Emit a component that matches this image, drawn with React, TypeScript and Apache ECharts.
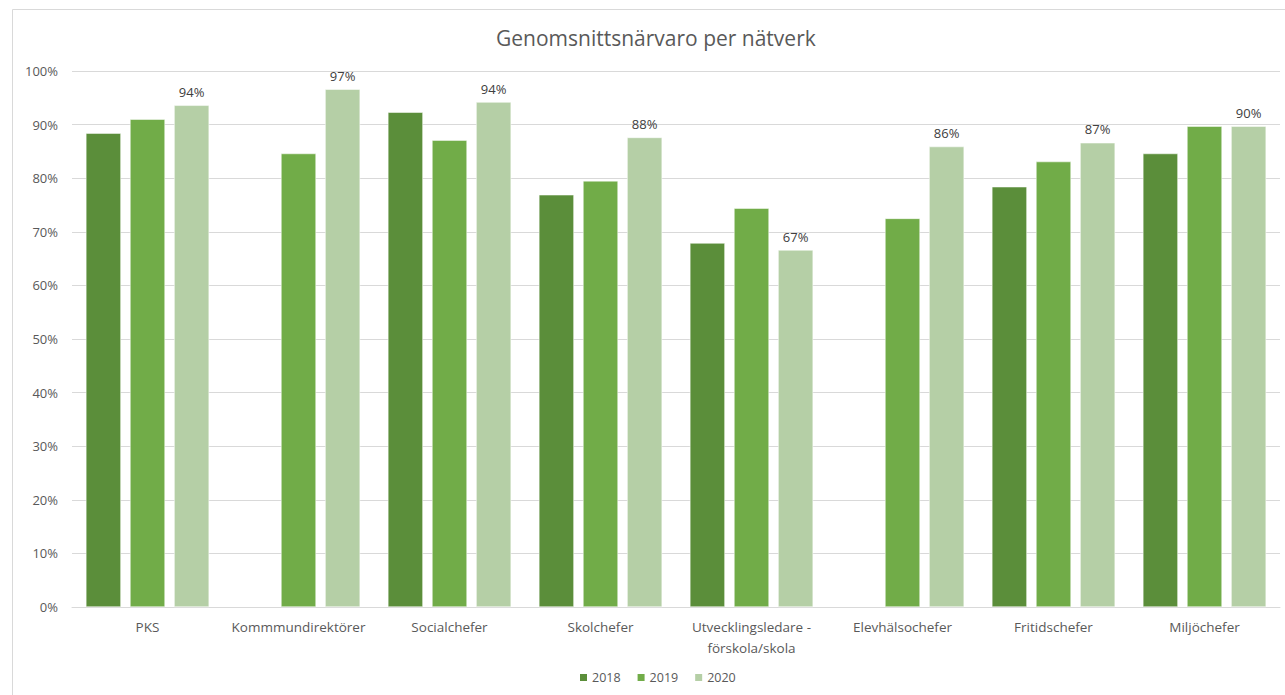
import React, { useEffect, useRef } from "react";
import * as echarts from "echarts";

const categories = [
  "PKS",
  "Kommmundirektörer",
  "Socialchefer",
  "Skolchefer",
  "Utvecklingsledare -\nförskola/skola",
  "Elevhälsochefer",
  "Fritidschefer",
  "Miljöchefer",
];
const seriesNames = ["2018", "2019", "2020"];
const values2018: (number | null)[] = [88.4, null, 92.3, 76.9, 67.9, null, 78.4, 84.6];
const values2019: (number | null)[] = [91.0, 84.6, 87.1, 79.5, 74.4, 72.5, 83.1, 89.7];
const values2020: (number | null)[] = [93.6, 96.6, 94.2, 87.6, 66.6, 85.9, 86.6, 89.7];
const colors = ["#5B8E3A", "#71AC48", "#B5CFA6"];
const FONT = "'Open Sans', Lato, sans-serif";

export default function App() {
  const ref = useRef<HTMLDivElement>(null);
  useEffect(() => {
    if (!ref.current) return;
    const chart = echarts.init(ref.current, undefined, { renderer: "svg" });
    const allData = [values2018, values2019, values2020];
    chart.setOption({
      animation: false,
      textStyle: { fontFamily: FONT },
      graphic: [
        {
          type: "rect",
          shape: { x: 12.5, y: 9.5, width: 1300, height: 700 },
          style: { fill: "none", stroke: "#D9D9D9", lineWidth: 1 },
          silent: true,
        },
      ],
      title: {
        text: "Genomsnittsnärvaro per nätverk",
        left: 491,
        top: 22,
        textStyle: { fontFamily: FONT, fontSize: 21, fontWeight: "normal", color: "#595959" },
      },
      legend: {
        top: 666,
        left: 573,
        itemWidth: 9,
        itemHeight: 9,
        itemGap: 15,
        icon: "rect",
        textStyle: { fontFamily: FONT, fontSize: 12.5, color: "#595959", padding: [0, 0, 0, -1] },
        data: seriesNames,
      },
      grid: { left: 72, right: 5, top: 71, bottom: 88, containLabel: false },
      xAxis: {
        type: "category",
        data: categories,
        axisLine: { lineStyle: { color: "#D9D9D9" } },
        axisTick: { show: false },
        axisLabel: {
          fontFamily: FONT,
          fontSize: 13.5,
          color: "#595959",
          margin: 9,
          lineHeight: 21,
          interval: 0,
        },
      },
      yAxis: {
        type: "value",
        min: 0,
        max: 100,
        interval: 10,
        axisLine: { show: false },
        axisTick: { show: false },
        splitLine: { lineStyle: { color: "#D9D9D9" } },
        axisLabel: {
          fontFamily: FONT,
          fontSize: 13,
          color: "#595959",
          margin: 14,
          formatter: "{value}%",
        },
      },
      series: seriesNames.map((name, i) => ({
        name,
        type: "bar",
        data: allData[i],
        barWidth: 35,
        barGap: "26%",
        itemStyle: { color: colors[i], borderColor: "#ffffff", borderWidth: 0.5 },
        label:
          i === 2
            ? {
                show: true,
                position: "top",
                distance: 7,
                fontFamily: FONT,
                fontSize: 13,
                color: "#404040",
                formatter: (p: any) => Math.round(p.value) + "%",
              }
            : { show: false },
      })),
    });
    return () => chart.dispose();
  }, []);
  return (
    <div
      ref={ref}
      style={{ position: "absolute", left: 0, top: 0, width: 1285, height: 695, background: "#fff" }}
    />
  );
}
